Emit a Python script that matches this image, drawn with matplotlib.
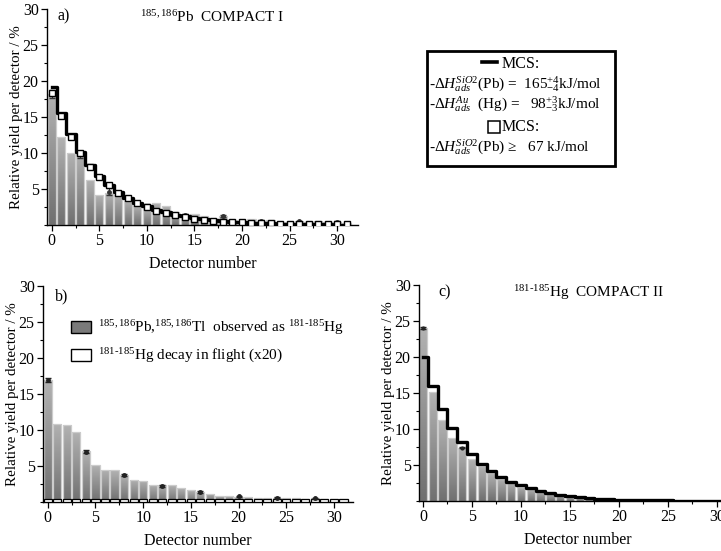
import numpy as np
import matplotlib
matplotlib.use("Agg")
import matplotlib.pyplot as plt
from matplotlib.patches import Patch, Rectangle
from matplotlib.lines import Line2D
from matplotlib.colors import LinearSegmentedColormap
from matplotlib.ticker import MultipleLocator

plt.rcParams['font.family'] = ['Liberation Serif', 'DejaVu Serif']
plt.rcParams['mathtext.fontset'] = 'custom'
plt.rcParams['mathtext.rm'] = 'Liberation Serif'
plt.rcParams['mathtext.it'] = 'Liberation Serif:italic'
plt.rcParams['mathtext.bf'] = 'Liberation Serif:bold'

detectors = np.arange(32)

# Panel a: 185,186Pb COMPACT I
a_exp = [18.2, 12.2, 10.0, 10.1, 6.3, 4.1, 4.4, 4.2, 3.4, 2.7, 2.3, 3.0, 2.6, 1.8, 1.4, 1.5,
         1.2, 0.9, 1.25, 0.7, 0.6, 0.9, 0.6, 0.7, 0.4, 0.35, 0.55, 0.35, 0.5, 0.35, 0.4, 0.3]
a_mcs_line = [19.1, 15.5, 12.6, 10.2, 8.4, 6.8, 5.6, 4.6, 3.8, 3.1, 2.6, 2.1, 1.75, 1.45, 1.2, 1.0,
              0.82, 0.68, 0.56, 0.46, 0.38, 0.31, 0.26, 0.22, 0.18, 0.15, 0.12, 0.1, 0.08, 0.07, 0.06, 0.05]
a_mcs_square = [18.3, 15.1, 12.2, 10.0, 8.1, 6.6, 5.5, 4.4, 3.7, 3.0, 2.5, 2.0, 1.7, 1.35, 1.05, 0.85,
                0.68, 0.55, 0.48, 0.4, 0.35, 0.3, 0.26, 0.22, 0.2, 0.18, 0.16, 0.15, 0.14, 0.13, 0.12, 0.11]
a_err_det = [0, 3, 6, 10, 14, 18, 22, 26, 30]
a_err_val = [18.2, 9.8, 4.6, 2.7, 1.4, 1.3, 0.6, 0.5, 0.4]
a_err_size = [0.6, 0.5, 0.5, 0.2, 0.15, 0.15, 0.1, 0.1, 0.1]

# Panel b: 185,186Pb,185,186Tl observed as 181-185Hg
b_exp = [16.9, 10.9, 10.7, 9.7, 7.1, 5.2, 4.5, 4.4, 3.8, 3.1, 2.95, 2.4, 2.3, 2.3, 1.9, 1.6,
         1.45, 1.15, 0.9, 0.8, 0.75, 0.7, 0.55, 0.6, 0.6, 0.55, 0.5, 0.45, 0.5, 0.45, 0.35, 0.35]
b_flight = [0.45] * 32
b_err_det = [0, 4, 8, 12, 16, 20, 24, 28]
b_err_val = [16.9, 7.0, 3.75, 2.25, 1.4, 0.8, 0.6, 0.5]
b_err_size = [0.3, 0.2, 0.15, 0.1, 0.1, 0.08, 0.08, 0.08]

# Panel c: 181-185Hg COMPACT II
c_exp = [24.0, 15.1, 11.2, 8.7, 7.3, 5.8, 4.9, 3.85, 3.1, 2.55, 2.0, 1.6, 1.3, 1.05, 0.85, 0.6,
         0.45, 0.35, 0.25, 0.2, 0.15, 0.12, 0.1, 0.08, 0.07, 0.06, 0.05, 0.05, 0.04, 0.04, 0.03, 0.03]
c_mcs_line = [20.0, 16.0, 12.8, 10.2, 8.2, 6.5, 5.2, 4.1, 3.3, 2.6, 2.2, 1.75, 1.4, 1.05, 0.85, 0.65,
              0.5, 0.4, 0.3, 0.25, 0.2, 0.15, 0.12, 0.1, 0.08, 0.07, 0.06, 0.05, 0.04, 0.03, 0.03, 0.03]
c_err_det = [0, 4]
c_err_val = [24.0, 7.4]
c_err_size = [0.1, 0.1]

xticks = [0, 5, 10, 15, 20, 25, 30]
yticks = [5, 10, 15, 20, 25, 30]

FS = 11.5
cmap = LinearSegmentedColormap.from_list('bargrad', ['#707070', '#b2b2b2'])
W, H = 721, 551
fig = plt.figure(figsize=(W / 100, H / 100), dpi=100)


def px_axes(l, r, b, t):
    return fig.add_axes([l / W, 1 - b / H, (r - l) / W, (b - t) / H])


def grad_bars(ax, x, h, width=0.86):
    bars = ax.bar(x, h, width, color='none', edgecolor='#cccccc', lw=0.9, zorder=2)
    grad = np.linspace(0, 1, 64).reshape(-1, 1)
    for b in bars:
        x0, y0 = b.get_xy()
        im = ax.imshow(grad, extent=[x0, x0 + b.get_width(), y0, y0 + b.get_height()],
                       origin='lower', cmap=cmap, aspect='auto', zorder=1.5,
                       interpolation='bilinear')
        im.set_clip_path(b)
    return bars


def style(ax, xlim):
    ax.set_xlim(*xlim)
    ax.set_ylim(0, 30)
    ax.spines['top'].set_visible(False)
    ax.spines['right'].set_visible(False)
    ax.spines['left'].set_linewidth(1.0)
    ax.spines['bottom'].set_linewidth(1.0)
    ax.set_xticks(xticks)
    ax.set_yticks(yticks)
    ax.xaxis.set_minor_locator(MultipleLocator(2.5))
    ax.yaxis.set_minor_locator(MultipleLocator(2.5))
    ax.tick_params(which='major', direction='out', length=4, width=0.9, labelsize=FS, pad=2)
    ax.tick_params(which='minor', direction='out', length=2.5, width=0.8)
    ax.set_xlabel('Detector number', fontsize=FS, labelpad=5)
    ax.set_ylabel('Relative yield per detector / %', fontsize=10.8, labelpad=-0.5)


# ---- panel a
axa = px_axes(47, 358, 225, 9)
grad_bars(axa, detectors, a_exp)
axa.errorbar(a_err_det, a_err_val, yerr=a_err_size, fmt='o', ms=2.5, color='#333333',
             capsize=2, elinewidth=0.8, zorder=3)
axa.plot(detectors, a_mcs_line, drawstyle='steps-mid', color='black', lw=2.4, zorder=4)
axa.plot(detectors, a_mcs_square, ls='none', marker='s', ms=4.3, mfc='white', mec='black',
         mew=1.0, zorder=5)
style(axa, (-0.5, 32.2))
axa.text(0.035, 0.965, 'a)', transform=axa.transAxes, fontsize=FS, va='center')
axa.text(0.30, 0.963, r'$^{185,186}$Pb  COMPACT I', transform=axa.transAxes, fontsize=11, va='center')

# ---- panel b
axb = px_axes(43, 353, 502, 286)
grad_bars(axb, detectors, b_exp)
axb.bar(detectors, b_flight, 0.86, color='white', edgecolor='black', lw=0.9, zorder=3)
axb.errorbar(b_err_det, b_err_val, yerr=b_err_size, fmt='o', ms=2.5, color='#222222',
             capsize=2, elinewidth=0.8, zorder=4)
style(axb, (-0.5, 32.0))
axb.text(0.04, 0.95, 'b)', transform=axb.transAxes, fontsize=FS, va='center')
handles = [Patch(facecolor='#7a7a7a', edgecolor='black', lw=1.0),
           Patch(facecolor='white', edgecolor='black', lw=1.0)]
labels = [r'$^{185,186}$Pb,$^{185,186}$Tl  observed as $^{181‐185}$Hg',
          r'$^{181‐185}$Hg decay in flight (x20)']
axb.legend(handles, labels, loc='upper left', bbox_to_anchor=(0.09, 0.85), frameon=False,
           fontsize=11, handlelength=1.3, handleheight=0.75, handletextpad=0.45,
           labelspacing=0.65, borderaxespad=0, borderpad=0)

# ---- panel c
axc = px_axes(419, 736.6, 501, 285)
grad_bars(axc, detectors, c_exp)
axc.errorbar(c_err_det, c_err_val, yerr=c_err_size, fmt='o', ms=2, color='#222222',
             capsize=2, elinewidth=0.8, zorder=3)
axc.plot(detectors, c_mcs_line, drawstyle='steps-mid', color='black', lw=2.4, zorder=4)
style(axc, (-0.4, 32.0))
axc.text(0.06, 0.967, 'c)', transform=axc.transAxes, fontsize=FS, va='center')
axc.text(0.296, 0.965, r'$^{181‐185}$Hg  COMPACT II', transform=axc.transAxes, fontsize=11, va='center')

# ---- MCS legend box (figure level)
fig.patches.append(Rectangle((427 / W, 1 - 166 / H), (615 - 427) / W, (166 - 51) / H,
                             transform=fig.transFigure, fill=False, ec='black', lw=2.0))
fig.lines.append(Line2D([482 / W, 497 / W], [1 - 62 / H, 1 - 62 / H], transform=fig.transFigure,
                        color='black', lw=2.6))
fs = 11
fig.text(502 / W, 1 - 64 / H, 'MCS:', fontsize=fs + 0.5, va='center')
fig.text(429 / W, 1 - 84 / H, r'-$\mathit{\Delta H}^{SiO2}_{ads}$(Pb) =  165$^{+4}_{-4}$kJ/mol',
         fontsize=fs, va='center')
fig.text(429 / W, 1 - 104 / H, r'-$\mathit{\Delta H}^{Au}_{ads}$  (Hg) =   98$^{+3}_{-3}$kJ/mol',
         fontsize=fs, va='center')
fig.patches.append(Rectangle((488 / W, 1 - 133 / H), 12 / W, 12 / H, transform=fig.transFigure,
                             fill=False, ec='black', lw=1.1))
fig.text(502 / W, 1 - 127 / H, 'MCS:', fontsize=fs + 0.5, va='center')
fig.text(429 / W, 1 - 147 / H, r'-$\mathit{\Delta H}^{SiO2}_{ads}$(Pb) ≥   67 kJ/mol',
         fontsize=fs, va='center')

fig.savefig('out.png', dpi=100)
